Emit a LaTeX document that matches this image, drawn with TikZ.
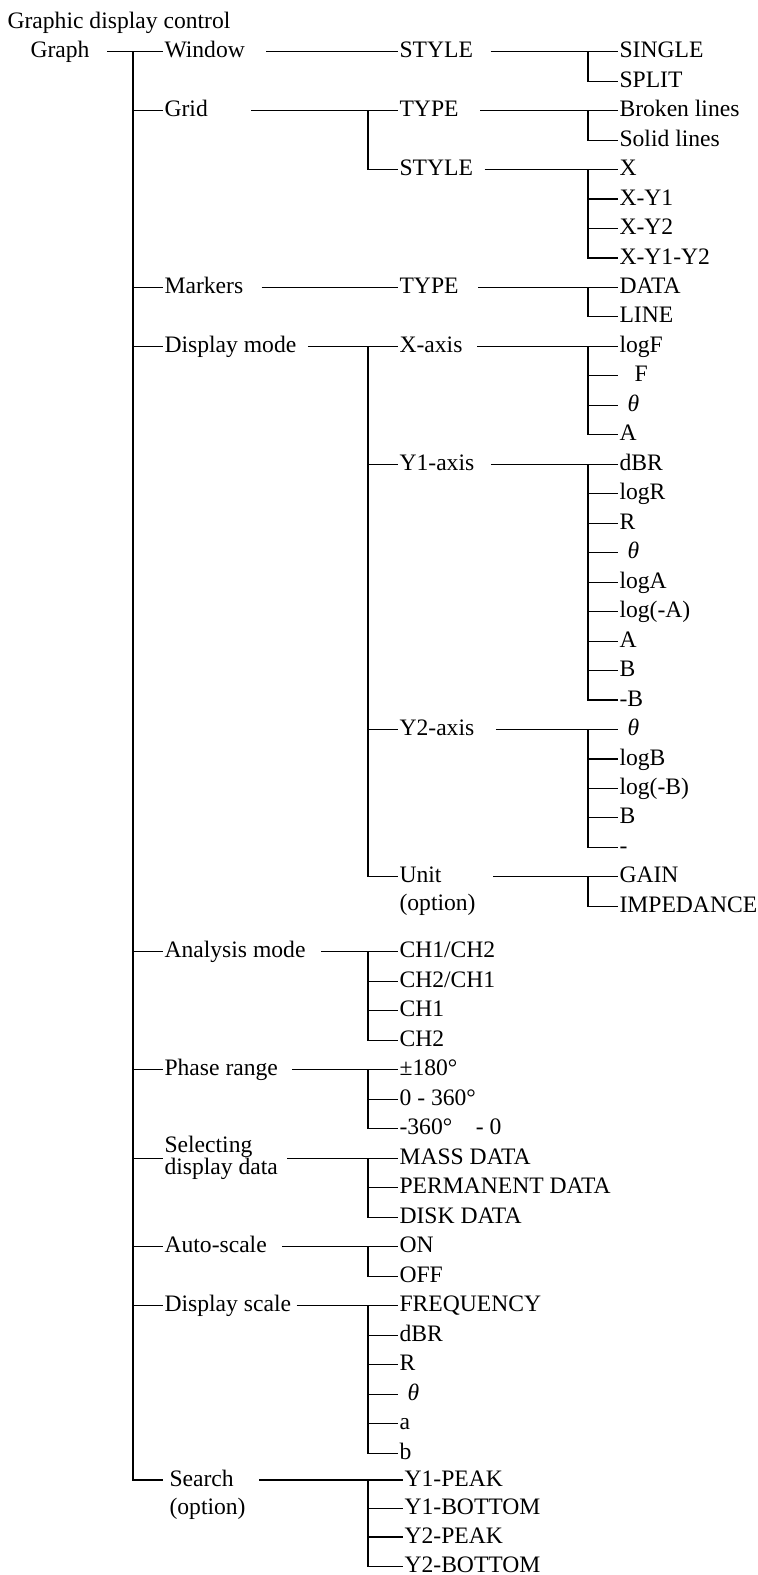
\documentclass[tikz,border=0pt]{standalone}
\usepackage{fontspec}
\setmainfont{Liberation Serif}
\usepackage{tikz}

\begin{document}
\begin{tikzpicture}[x=0.5pt,y=-0.5pt,line width=0.55pt,
    lbl/.style={anchor=west,inner xsep=0.5pt,inner ysep=0pt,text height=8pt,text depth=2pt,font=\fontsize{11.8}{14}\selectfont},
    lbltwo/.style={anchor=west,inner xsep=0.5pt,inner ysep=0pt,align=left,font=\fontsize{11.8}{11}\selectfont}]
        \useasboundingbox (0,0) rectangle (758,1575);
        \node[lbl] (title) at (6,22) {Graphic display control};
        \node[lbl] (graph) at (29,51.7) {Graph};
        % first level
        \node[lbl] (window) at (163,51.7) {Window};
        \node[lbl] (grid) at (163,110.6) {Grid};
        \node[lbl] (markers) at (163,287.5) {Markers};
        \node[lbl] (dispmode) at (163,346.4) {Display mode};
        \node[lbl] (analysis) at (163,951.7) {Analysis mode};
        \node[lbl] (phase) at (163,1069.7) {Phase range};
        \node[lbltwo] (seldata) at (163,1158.2) {Selecting\\display data};
        \node[lbl] (autoscale) at (163,1246.7) {Auto-scale};
        \node[lbl] (dispscale) at (163,1305.7) {Display scale};
        \node[lbl] (search) at (168,1480) {Search};
        \node[lbl] (searchopt) at (168,1508.5) {(option)};
        % second level
        \node[lbl] (wstyle) at (398,51.7) {STYLE};
        \node[lbl] (gtype) at (398,110.6) {TYPE};
        \node[lbl] (gstyle) at (398,169.6) {STYLE};
        \node[lbl] (mtype) at (398,287.5) {TYPE};
        \node[lbl] (xaxis) at (398,346.4) {X-axis};
        \node[lbl] (yoneaxis) at (398,464.3) {Y1-axis};
        \node[lbl] (ytwoaxis) at (398,729.5) {Y2-axis};
        \node[lbl] (unit) at (398,876.9) {Unit};
        \node[lbl] (unitopt) at (398,904) {(option)};
        \node[lbl] (chot) at (398,951.7) {CH1/CH2};
        \node[lbl] (chto) at (398,981.2) {CH2/CH1};
        \node[lbl] (chone) at (398,1010.7) {CH1};
        \node[lbl] (chtwo) at (398,1040.2) {CH2};
        \node[lbl] (pmhalf) at (398,1069.7) {±180°};
        \node[lbl] (pfull) at (398,1099.2) {0 - 360°};
        \node[lbl] (mfull) at (398,1128.7) {-360°\hspace{1em}- 0};
        \node[lbl] (mass) at (398,1158.2) {MASS DATA};
        \node[lbl] (perm) at (398,1187.7) {PERMANENT DATA};
        \node[lbl] (disk) at (398,1217.2) {DISK DATA};
        \node[lbl] (aon) at (398,1246.7) {ON};
        \node[lbl] (aoff) at (398,1276.2) {OFF};
        \node[lbl] (freq) at (398,1305.7) {FREQUENCY};
        \node[lbl] (sdbr) at (398,1335.2) {dBR};
        \node[lbl] (sr) at (398,1364.7) {R};
        \node[lbl] (sth) at (398,1394.2) {\hspace{4pt}\textit{θ}};
        \node[lbl] (sa) at (398,1423.7) {a};
        \node[lbl] (sb) at (398,1453.2) {b};
        \node[lbl] (yopk) at (403,1480) {Y1-PEAK};
        \node[lbl] (yobt) at (403,1508.5) {Y1-BOTTOM};
        \node[lbl] (ytpk) at (403,1537) {Y2-PEAK};
        \node[lbl] (ytbt) at (403,1566.5) {Y2-BOTTOM};
        % third level
        \node[lbl] (single) at (618,51.7) {SINGLE};
        \node[lbl] (split) at (618,81.2) {SPLIT};
        \node[lbl] (broken) at (618,110.6) {Broken lines};
        \node[lbl] (solid) at (618,140.1) {Solid lines};
        \node[lbl] (sx) at (618,169.6) {X};
        \node[lbl] (sxyo) at (618,199) {X-Y1};
        \node[lbl] (sxyt) at (618,228.5) {X-Y2};
        \node[lbl] (sxyot) at (618,258) {X-Y1-Y2};
        \node[lbl] (mdata) at (618,287.5) {DATA};
        \node[lbl] (mline) at (618,316.9) {LINE};
        \node[lbl] (xlogf) at (618,346.4) {logF};
        \node[lbl] (xf) at (618,375.9) {\hspace{7.5pt}F};
        \node[lbl] (xth) at (618,405.3) {\hspace{4pt}\textit{θ}};
        \node[lbl] (xa) at (618,434.8) {A};
        \node[lbl] (ydbr) at (618,464.3) {dBR};
        \node[lbl] (ylogr) at (618,493.8) {logR};
        \node[lbl] (yr) at (618,523.2) {R};
        \node[lbl] (yth) at (618,552.7) {\hspace{4pt}\textit{θ}};
        \node[lbl] (yloga) at (618,582.2) {logA};
        \node[lbl] (ylogna) at (618,611.6) {log(-A)};
        \node[lbl] (ya) at (618,641.1) {A};
        \node[lbl] (yb) at (618,670.6) {B};
        \node[lbl] (ynb) at (618,700) {-B};
        \node[lbl] (zth) at (618,729.5) {\hspace{4pt}\textit{θ}};
        \node[lbl] (zlogb) at (618,759) {logB};
        \node[lbl] (zlognb) at (618,788.5) {log(-B)};
        \node[lbl] (zb) at (618,817.9) {B};
        \node[lbl] (zminus) at (618,847.4) {-};
        \node[lbl] (gain) at (618,876.9) {GAIN};
        \node[lbl] (imped) at (618,906.3) {IMPEDANCE};
        % trunks
        \coordinate (tgraph) at (133,51.7);
        \coordinate (tgrid) at (368,110.6);
        \coordinate (tdisp) at (368,346.4);
        \coordinate (tanal) at (368,951.7);
        \coordinate (tphase) at (368,1069.7);
        \coordinate (tsel) at (368,1158.2);
        \coordinate (tauto) at (368,1246.7);
        \coordinate (tscale) at (368,1305.7);
        \coordinate (tsearch) at (368,1480);
        \coordinate (twstyle) at (588,51.7);
        \coordinate (tgtype) at (588,110.6);
        \coordinate (tgstyle) at (588,169.6);
        \coordinate (tmtype) at (588,287.5);
        \coordinate (txaxis) at (588,346.4);
        \coordinate (tyone) at (588,464.3);
        \coordinate (tytwo) at (588,729.5);
        \coordinate (tunit) at (588,876.9);
        \coordinate (searchend) at (search.east -| searchopt.east);
        \coordinate (unitend) at (unit.east -| unitopt.east);
        % graph
        \draw ([xshift=8pt]graph.east) -- (window.west);
        \draw[shorten >=2.5pt] (tgraph) |- (search.west);
        \draw (tgraph |- grid.west) -- (grid.west) (tgraph |- markers.west) -- (markers.west)
            (tgraph |- dispmode.west) -- (dispmode.west) (tgraph |- analysis.west) -- (analysis.west)
            (tgraph |- phase.west) -- (phase.west) (tgraph |- seldata.west) -- (seldata.west)
            (tgraph |- autoscale.west) -- (autoscale.west) (tgraph |- dispscale.west) -- (dispscale.west);
        % window, grid, markers
        \draw ([xshift=10pt]window.east) -- (wstyle.west);
        \draw ([xshift=8pt]wstyle.east) -- (single.west);
        \draw (twstyle) |- (split.west);
        \draw ([xshift=21pt]grid.east) -- (gtype.west);
        \draw (tgrid) |- (gstyle.west);
        \draw ([xshift=10pt]gtype.east) -- (broken.west);
        \draw (tgtype) |- (solid.west);
        \draw ([xshift=5pt]gstyle.east) -- (sx.west);
        \draw (tgstyle) |- (sxyot.west);
        \draw (tgstyle |- sxyo.west) -- (sxyo.west) (tgstyle |- sxyt.west) -- (sxyt.west);
        \draw ([xshift=8.5pt]markers.east) -- (mtype.west);
        \draw ([xshift=9pt]mtype.east) -- (mdata.west);
        \draw (tmtype) |- (mline.west);
        % display mode
        \draw ([xshift=5pt]dispmode.east) -- (xaxis.west);
        \draw (tdisp) |- (unit.west);
        \draw (tdisp |- yoneaxis.west) -- (yoneaxis.west) (tdisp |- ytwoaxis.west) -- (ytwoaxis.west);
        \draw ([xshift=6.5pt]xaxis.east) -- (xlogf.west);
        \draw (txaxis) |- (xa.west);
        \draw (txaxis |- xf.west) -- (xf.west) (txaxis |- xth.west) -- (xth.west);
        \draw ([xshift=7.5pt]yoneaxis.east) -- (ydbr.west);
        \draw (tyone) |- (ynb.west);
        \draw (tyone |- ylogr.west) -- (ylogr.west) (tyone |- yr.west) -- (yr.west)
            (tyone |- yth.west) -- (yth.west) (tyone |- yloga.west) -- (yloga.west)
            (tyone |- ylogna.west) -- (ylogna.west) (tyone |- ya.west) -- (ya.west)
            (tyone |- yb.west) -- (yb.west);
        \draw ([xshift=10pt]ytwoaxis.east) -- (zth.west);
        \draw (tytwo) |- (zminus.west);
        \draw (tytwo |- zlogb.west) -- (zlogb.west) (tytwo |- zlognb.west) -- (zlognb.west)
            (tytwo |- zb.west) -- (zb.west);
        \draw ([xshift=8pt]unitend) -- (gain.west);
        \draw (tunit) |- (imped.west);
        % remaining modes
        \draw ([xshift=7pt]analysis.east) -- (chot.west);
        \draw (tanal) |- (chtwo.west);
        \draw (tanal |- chto.west) -- (chto.west) (tanal |- chone.west) -- (chone.west);
        \draw ([xshift=6.5pt]phase.east) -- (pmhalf.west);
        \draw (tphase) |- (mfull.west);
        \draw (tphase |- pfull.west) -- (pfull.west);
        \draw ([xshift=4pt]seldata.east) -- (mass.west);
        \draw (tsel) |- (disk.west);
        \draw (tsel |- perm.west) -- (perm.west);
        \draw ([xshift=7pt]autoscale.east) -- (aon.west);
        \draw (tauto) |- (aoff.west);
        \draw ([xshift=2pt]dispscale.east) -- (freq.west);
        \draw (tscale) |- (sb.west);
        \draw (tscale |- sdbr.west) -- (sdbr.west) (tscale |- sr.west) -- (sr.west)
            (tscale |- sth.west) -- (sth.west) (tscale |- sa.west) -- (sa.west);
        \draw ([xshift=6pt]searchend) -- (yopk.west);
        \draw (tsearch) |- (ytbt.west);
        \draw (tsearch |- yobt.west) -- (yobt.west) (tsearch |- ytpk.west) -- (ytpk.west);
\end{tikzpicture}
\end{document}
